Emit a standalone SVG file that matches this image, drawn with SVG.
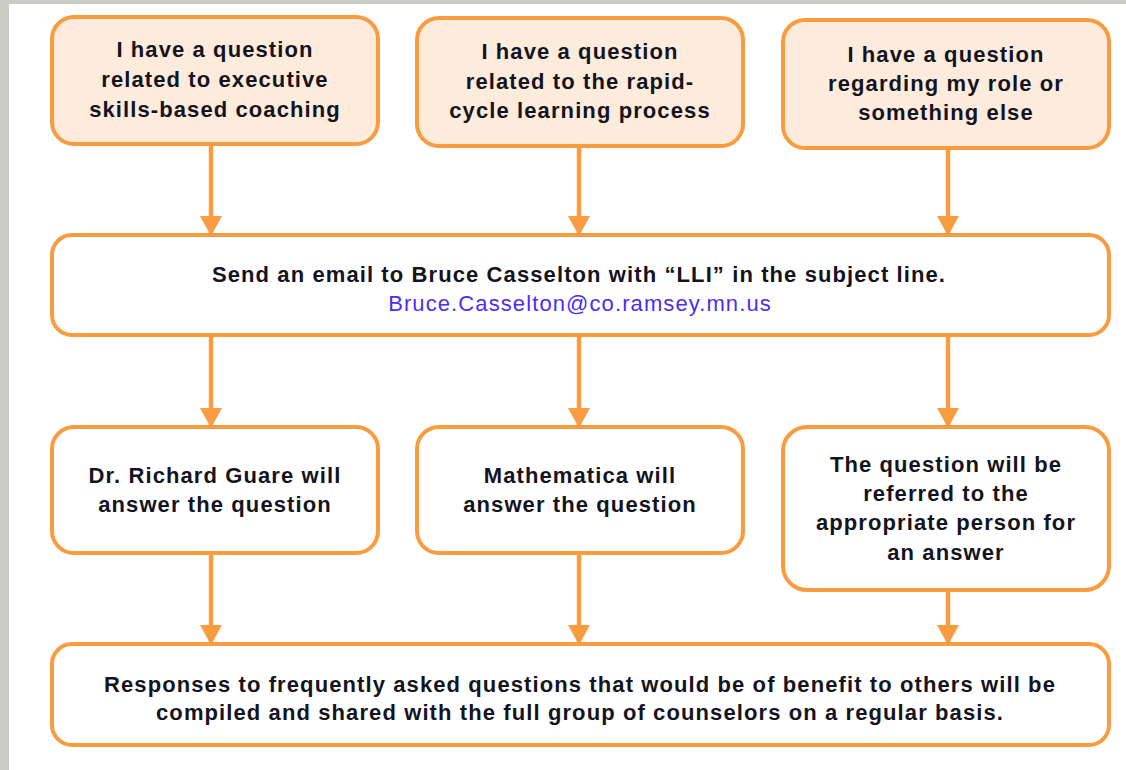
<svg xmlns="http://www.w3.org/2000/svg" width="1126" height="770" viewBox="0 0 1126 770">
<defs>
<style>
.bg{fill:#c9cdc4}
.page{fill:#ffffff}
.q{fill:#fdebdc;stroke:#f99b3f;stroke-width:4}
.b{fill:#ffffff;stroke:#f99b3f;stroke-width:4}
.t{font-family:"Liberation Sans",Arial,sans-serif;font-size:22px;font-weight:bold;fill:#141420;text-anchor:middle;letter-spacing:1.1px}
.link{font-family:"Liberation Sans",Arial,sans-serif;font-size:22px;fill:#4b2ef5;text-anchor:middle;letter-spacing:1.1px}
.c{stroke:#f99b3f;stroke-width:4.5;fill:none;marker-end:url(#ah)}
</style>
<marker id="ah" markerUnits="userSpaceOnUse" markerWidth="20" markerHeight="22" refX="19" refY="11" orient="auto" viewBox="0 0 20 22">
<path d="M0,0 L20,11 L0,22 z" fill="#f99b3f"/>
</marker>
</defs>
<rect class="bg" x="0" y="0" width="1126" height="770"/>
<rect class="page" x="9" y="4" width="1117" height="766"/>

<g id="connectors">
<line class="c" x1="211" y1="146" x2="211" y2="235"/>
<line class="c" x1="579" y1="148" x2="579" y2="235"/>
<line class="c" x1="948" y1="150" x2="948" y2="235"/>
<line class="c" x1="211" y1="337" x2="211" y2="427"/>
<line class="c" x1="579" y1="337" x2="579" y2="427"/>
<line class="c" x1="948" y1="337" x2="948" y2="427"/>
<line class="c" x1="211" y1="555" x2="211" y2="644"/>
<line class="c" x1="579" y1="555" x2="579" y2="644"/>
<line class="c" x1="948" y1="592" x2="948" y2="644"/>
</g>

<g id="q1">
<rect class="q" x="52" y="17" width="326" height="127" rx="22"/>
<text class="t" x="215" y="57">I have a question</text>
<text class="t" x="215" y="87">related to executive</text>
<text class="t" x="215" y="117">skills-based coaching</text>
</g>
<g id="q2">
<rect class="q" x="417" y="18" width="326" height="128" rx="22"/>
<text class="t" x="580" y="59">I have a question</text>
<text class="t" x="580" y="89">related to the rapid-</text>
<text class="t" x="580" y="118">cycle learning process</text>
</g>
<g id="q3">
<rect class="q" x="783" y="20" width="326" height="128" rx="22"/>
<text class="t" x="946" y="62">I have a question</text>
<text class="t" x="946" y="91">regarding my role or</text>
<text class="t" x="946" y="120">something else</text>
</g>

<g id="email">
<rect class="b" x="52" y="235" width="1057" height="100" rx="20"/>
<text class="t" x="579" y="282">Send an email to Bruce Casselton with “LLI” in the subject line.</text>
<text class="link" x="580" y="311">Bruce.Casselton@co.ramsey.mn.us</text>
</g>

<g id="a1">
<rect class="b" x="52" y="427" width="326" height="126" rx="22"/>
<text class="t" x="215" y="483">Dr. Richard Guare will</text>
<text class="t" x="215" y="512">answer the question</text>
</g>
<g id="a2">
<rect class="b" x="417" y="427" width="326" height="126" rx="22"/>
<text class="t" x="580" y="483">Mathematica will</text>
<text class="t" x="580" y="512">answer the question</text>
</g>
<g id="a3">
<rect class="b" x="783" y="427" width="326" height="163" rx="24"/>
<text class="t" x="946" y="472">The question will be</text>
<text class="t" x="946" y="501">referred to the</text>
<text class="t" x="946" y="530">appropriate person for</text>
<text class="t" x="946" y="560">an answer</text>
</g>

<g id="summary">
<rect class="b" x="52" y="644" width="1057" height="101" rx="20"/>
<text class="t" x="580" y="692">Responses to frequently asked questions that would be of benefit to others will be</text>
<text class="t" x="580" y="720">compiled and shared with the full group of counselors on a regular basis.</text>
</g>
</svg>
